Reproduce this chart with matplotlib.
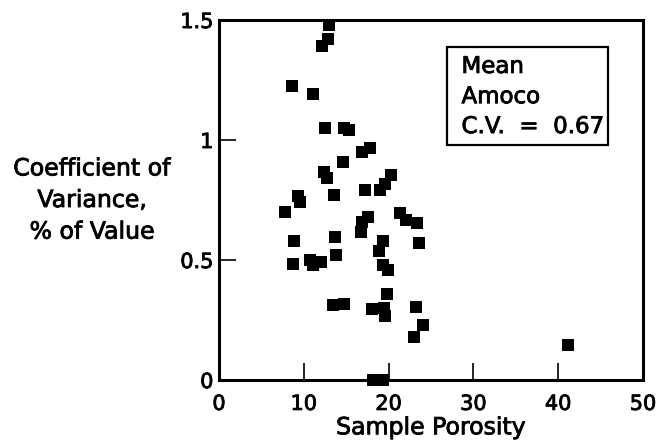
import matplotlib
matplotlib.use("Agg")
import matplotlib.pyplot as plt
import matplotlib.patheffects as pe
from matplotlib.patches import Rectangle

# Sample porosity (%) and coefficient of variance for each sample
porosity = [13.0, 12.8, 12.2, 8.6, 11.1, 12.5, 14.8, 15.3, 14.6, 16.9,
            17.8, 12.4, 12.7, 20.3, 19.6, 19.0, 17.2, 13.6, 9.35, 9.6,
            7.8, 17.6, 16.9, 16.8, 21.4, 22.1, 23.4, 23.6, 8.8, 13.65,
            19.3, 18.85, 13.75, 8.7, 10.7, 11.1, 12.0, 19.4, 19.9, 19.8,
            13.5, 14.7, 18.0, 19.5, 19.6, 23.2, 24.0, 23.0, 41.2, 18.2,
            19.3]
cv = [1.48, 1.42, 1.39, 1.225, 1.19, 1.05, 1.05, 1.04, 0.91, 0.95,
      0.965, 0.865, 0.84, 0.855, 0.815, 0.79, 0.79, 0.773, 0.765, 0.743,
      0.70, 0.68, 0.66, 0.618, 0.697, 0.665, 0.653, 0.57, 0.578, 0.596,
      0.58, 0.538, 0.52, 0.482, 0.50, 0.48, 0.49, 0.478, 0.46, 0.36,
      0.312, 0.317, 0.294, 0.30, 0.265, 0.304, 0.229, 0.178, 0.146, 0.0,
      0.0]

x_ticks = [0, 10, 20, 30, 40, 50]
x_tick_labels = ["0", "10", "20", "30", "40", "50"]
y_ticks = [0, 0.5, 1, 1.5]
y_tick_labels = ["0", "0.5", "1", "1.5"]
box_lines = ["Mean", "Amoco", "C.V.  =  0.67"]

# slightly heavier strokes for all lettering
heavy = [pe.withStroke(linewidth=0.6, foreground="black")]

fig = plt.figure(figsize=(6.6, 4.44), dpi=100)
ax = fig.add_axes([0.3318, 0.1441, 0.6424, 0.8108])

ax.scatter(porosity, cv, marker="s", s=70, color="black", linewidths=0,
           clip_on=False, zorder=3)

ax.set_xlim(0, 50)
ax.set_ylim(0, 1.5)
ax.set_xticks(x_ticks)
ax.set_xticklabels(x_tick_labels)
ax.set_yticks(y_ticks)
ax.set_yticklabels(y_tick_labels)
ax.tick_params(direction="in", length=12, width=1.2, labelsize=15,
               colors="black")
ax.tick_params(axis="x", pad=10)
ax.tick_params(axis="y", pad=4)
for lbl in ax.get_xticklabels() + ax.get_yticklabels():
    lbl.set_path_effects(heavy)

for sp in ax.spines.values():
    sp.set_linewidth(2.2)

ax.set_xlabel("Sample Porosity", fontsize=17, labelpad=1,
              path_effects=heavy)

fig.text(92 / 660, 1 - 200 / 444, "Coefficient of\nVariance,\n% of Value",
         ha="center", va="center", multialignment="center",
         fontsize=17, linespacing=1.4, path_effects=heavy)

# Annotation box with the mean value
ax.add_patch(Rectangle((0.5377, 0.6528), 0.9175 - 0.5377, 0.925 - 0.6528,
                       transform=ax.transAxes, fill=False, linewidth=1.6,
                       edgecolor="black", zorder=4))
for txt, yb in zip(box_lines, [0.853, 0.769, 0.686]):
    ax.text(0.572, yb, txt, transform=ax.transAxes, ha="left",
            va="baseline", fontsize=16.5, zorder=5, path_effects=heavy)

fig.savefig("out.png", dpi=100)
